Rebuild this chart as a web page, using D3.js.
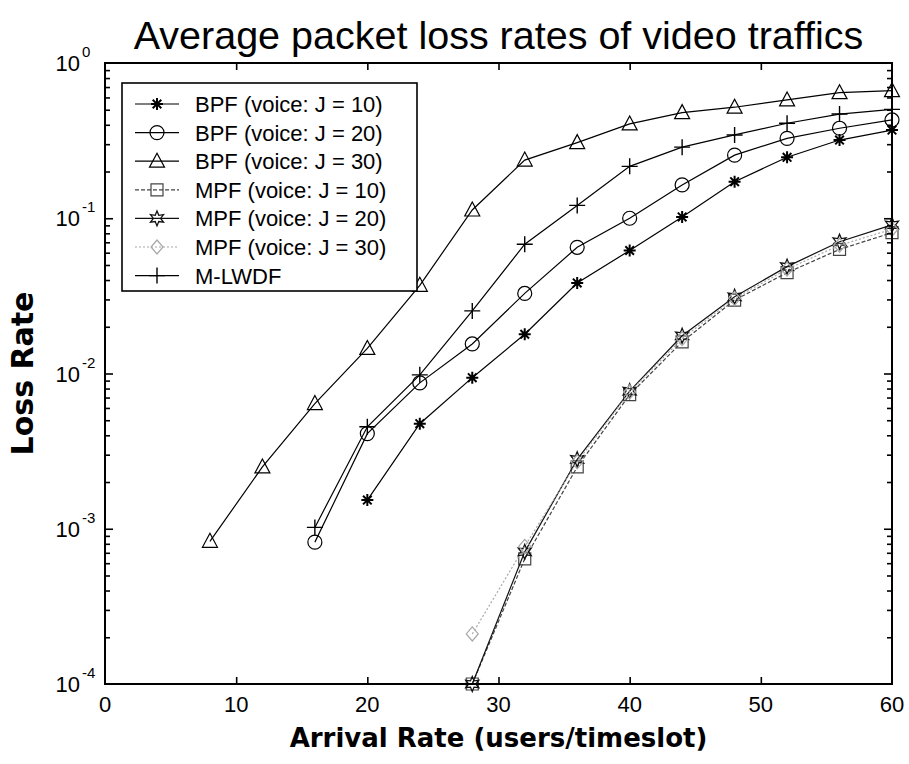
<!DOCTYPE html>
<html>
<head>
<meta charset="utf-8">
<script src="https://cdn.jsdelivr.net/npm/d3@7"></script>
<style>
  body { margin: 0; background: #fff; }
  svg { display: block; }
</style>
</head>
<body>
<svg id="chart" width="909" height="764"></svg>
<script>
// ---- data -------------------------------------------------------------
const xTicks = [0, 10, 20, 30, 40, 50, 60];
const yTickExps = [-4, -3, -2, -1, 0];

const bpfJ30X = [8, 12, 16, 20, 24, 28, 32, 36, 40, 44, 48, 52, 56, 60];
const bpfJ30 = [0.00083, 0.0025, 0.0064, 0.0145, 0.037, 0.113, 0.237, 0.307, 0.405, 0.479, 0.519, 0.578, 0.644, 0.663];

const bpfJ20X = [16, 20, 24, 28, 32, 36, 40, 44, 48, 52, 56, 60];
const bpfJ20 = [0.00082, 0.0041, 0.0087, 0.0155, 0.0328, 0.065, 0.1, 0.164, 0.255, 0.327, 0.38, 0.43];

const bpfJ10X = [20, 24, 28, 32, 36, 40, 44, 48, 52, 56, 60];
const bpfJ10 = [0.00153, 0.00475, 0.0094, 0.0179, 0.0383, 0.062, 0.102, 0.172, 0.247, 0.319, 0.37];

const mlwdfX = [16, 20, 24, 28, 32, 36, 40, 44, 48, 52, 56, 60];
const mlwdf = [0.00102, 0.00454, 0.0098, 0.0253, 0.068, 0.121, 0.216, 0.287, 0.344, 0.409, 0.469, 0.503];

const mpfX = [28, 32, 36, 40, 44, 48, 52, 56, 60];
const mpfJ10 = [0.0001, 0.00064, 0.0025, 0.0073, 0.016, 0.0297, 0.0446, 0.063, 0.0807];
const mpfJ20 = [0.0001, 0.00071, 0.0028, 0.0077, 0.0175, 0.0312, 0.0488, 0.0706, 0.0906];
const mpfJ30 = [0.00021, 0.00077, 0.0027, 0.0076, 0.0168, 0.0305, 0.047, 0.067, 0.085];

const seriesNames = [
  "BPF (voice: J = 10)", "BPF (voice: J = 20)", "BPF (voice: J = 30)",
  "MPF (voice: J = 10)", "MPF (voice: J = 20)", "MPF (voice: J = 30)", "M-LWDF"
];

// ---- layout -----------------------------------------------------------
const plot = { left: 105, right: 892, top: 63, bottom: 684 };
const svg = d3.select("#chart");

const x = d3.scaleLinear().domain([0, 60]).range([plot.left, plot.right]);
const y = d3.scaleLog().domain([1e-4, 1]).range([plot.bottom, plot.top]);

const FONT = "'Liberation Sans', Arial, Helvetica, sans-serif";
const BOLD = "'DejaVu Sans', Verdana, sans-serif";

// ---- marker shapes ----------------------------------------------------
function markerPath(type) {
  switch (type) {
    case "asterisk": {
      const r = 6, d = 4.3;
      return `M${-r},0L${r},0M0,${-r}L0,${r}M${-d},${-d}L${d},${d}M${-d},${d}L${d},${-d}`;
    }
    case "circle": {
      const r = 7;
      return `M${r},0A${r},${r} 0 1,1 ${-r},0A${r},${r} 0 1,1 ${r},0Z`;
    }
    case "triangle":
      return "M0,-8L7.5,6L-7.5,6Z";
    case "square":
      return "M-6,-6L6,-6L6,6L-6,6Z";
    case "hexagram": {
      const pts = [];
      for (let i = 0; i < 12; i++) {
        const a = -Math.PI / 2 + i * Math.PI / 6;
        const r = i % 2 === 0 ? 7.5 : 3.6;
        pts.push([r * Math.cos(a), r * Math.sin(a)]);
      }
      return "M" + pts.map(p => p[0].toFixed(2) + "," + p[1].toFixed(2)).join("L") + "Z";
    }
    case "diamond":
      return "M0,-7L6,0L0,7L-6,0Z";
    case "plus":
      return "M-8,0L8,0M0,-8L0,8";
  }
}

const series = [
  { name: seriesNames[0], xs: bpfJ10X, ys: bpfJ10, marker: "asterisk", color: "#000", dash: null, mw: 2 },
  { name: seriesNames[1], xs: bpfJ20X, ys: bpfJ20, marker: "circle", color: "#000", dash: null, mw: 1.2 },
  { name: seriesNames[2], xs: bpfJ30X, ys: bpfJ30, marker: "triangle", color: "#000", dash: null, mw: 1.2 },
  { name: seriesNames[3], xs: mpfX, ys: mpfJ10, marker: "square", color: "#444", dash: "4,2", mw: 1.2 },
  { name: seriesNames[4], xs: mpfX, ys: mpfJ20, marker: "hexagram", color: "#111", dash: null, mw: 1.3 },
  { name: seriesNames[5], xs: mpfX, ys: mpfJ30, marker: "diamond", color: "#a8a8a8", dash: "2,2", mw: 1.2 },
  { name: seriesNames[6], xs: mlwdfX, ys: mlwdf, marker: "plus", color: "#000", dash: null, mw: 1.4 }
];

// ---- title & axis labels ---------------------------------------------
svg.append("text")
  .attr("x", (plot.left + plot.right) / 2)
  .attr("y", 49)
  .attr("text-anchor", "middle")
  .style("font-family", FONT)
  .style("font-size", "39.5px")
  .text("Average packet loss rates of video traffics");

svg.append("text")
  .attr("x", (plot.left + plot.right) / 2)
  .attr("y", 747)
  .attr("text-anchor", "middle")
  .style("font-family", BOLD)
  .style("font-weight", "bold")
  .style("font-size", "26px")
  .text("Arrival Rate (users/timeslot)");

svg.append("text")
  .attr("transform", `translate(33,${(plot.top + plot.bottom) / 2}) rotate(-90)`)
  .attr("text-anchor", "middle")
  .style("font-family", BOLD)
  .style("font-weight", "bold")
  .style("font-size", "30px")
  .text("Loss Rate");

// ---- series -----------------------------------------------------------
const line = d3.line().x(d => x(d[0])).y(d => y(d[1]));
const plotG = svg.append("g");

series.forEach(s => {
  const pts = s.xs.map((v, i) => [v, s.ys[i]]);
  plotG.append("path")
    .datum(pts)
    .attr("d", line)
    .attr("fill", "none")
    .attr("stroke", s.color)
    .attr("stroke-width", 1.2)
    .attr("stroke-dasharray", s.dash);
  plotG.selectAll(null)
    .data(pts)
    .enter().append("path")
    .attr("transform", d => `translate(${x(d[0])},${y(d[1])})`)
    .attr("d", markerPath(s.marker))
    .attr("fill", "none")
    .attr("stroke", s.color)
    .attr("stroke-width", s.mw);
});

// ---- axes (ticks pointing inward) -------------------------------------
const majorY = yTickExps.map(e => Math.pow(10, e));
const minorY = [];
yTickExps.slice(0, -1).forEach(e => {
  for (let k = 2; k <= 9; k++) minorY.push(k * Math.pow(10, e));
});

function styleAxis(g) {
  g.select(".domain").remove();
  g.selectAll(".tick line").attr("stroke", "#000").attr("stroke-width", 1.6);
  g.selectAll(".tick text").remove();
}

svg.append("g").attr("transform", `translate(0,${plot.bottom})`)
  .call(d3.axisBottom(x).tickValues(xTicks.slice(1, -1)).tickSizeInner(-7).tickSizeOuter(0)).call(styleAxis);
svg.append("g").attr("transform", `translate(0,${plot.top})`)
  .call(d3.axisTop(x).tickValues(xTicks.slice(1, -1)).tickSizeInner(-7).tickSizeOuter(0)).call(styleAxis);
svg.append("g").attr("transform", `translate(${plot.left},0)`)
  .call(d3.axisLeft(y).tickValues(majorY.slice(1, -1)).tickSizeInner(-8).tickSizeOuter(0)).call(styleAxis);
svg.append("g").attr("transform", `translate(${plot.left},0)`)
  .call(d3.axisLeft(y).tickValues(minorY).tickSizeInner(-5).tickSizeOuter(0)).call(styleAxis);
svg.append("g").attr("transform", `translate(${plot.right},0)`)
  .call(d3.axisRight(y).tickValues(majorY.slice(1, -1)).tickSizeInner(-8).tickSizeOuter(0)).call(styleAxis);
svg.append("g").attr("transform", `translate(${plot.right},0)`)
  .call(d3.axisRight(y).tickValues(minorY).tickSizeInner(-5).tickSizeOuter(0)).call(styleAxis);

// frame
svg.append("rect")
  .attr("x", plot.left).attr("y", plot.top)
  .attr("width", plot.right - plot.left).attr("height", plot.bottom - plot.top)
  .attr("fill", "none").attr("stroke", "#000").attr("stroke-width", 2);

// x tick labels
svg.append("g").selectAll("text")
  .data(xTicks).enter().append("text")
  .attr("x", d => x(d)).attr("y", plot.bottom + 28)
  .attr("text-anchor", "middle")
  .style("font-family", FONT).style("font-size", "22px")
  .text(d => d);

// y tick labels: 10 with a raised exponent
const yl = svg.append("g").selectAll("g")
  .data(yTickExps).enter().append("g");
yl.append("text")
  .attr("x", 80).attr("y", d => y(Math.pow(10, d)) + 8)
  .attr("text-anchor", "end")
  .style("font-family", FONT).style("font-size", "22px")
  .text("10");
yl.append("text")
  .attr("x", 82).attr("y", d => y(Math.pow(10, d)) - 6)
  .attr("text-anchor", "start")
  .style("font-family", FONT).style("font-size", "15px")
  .text(d => d === 0 ? "0" : "-" + Math.abs(d));

// ---- legend -----------------------------------------------------------
const legend = { x: 122, y: 83, w: 295, h: 208, row0: 104, step: 28.6 };
svg.append("rect")
  .attr("x", legend.x).attr("y", legend.y)
  .attr("width", legend.w).attr("height", legend.h)
  .attr("fill", "#fff").attr("stroke", "#000").attr("stroke-width", 1.6);

const lg = svg.append("g").selectAll("g")
  .data(series).enter().append("g")
  .attr("transform", (d, i) => `translate(0,${legend.row0 + i * legend.step})`);
lg.append("line")
  .attr("x1", 135).attr("x2", 179).attr("y1", 0).attr("y2", 0)
  .attr("stroke", d => d.color).attr("stroke-width", 1.2)
  .attr("stroke-dasharray", d => d.dash);
lg.append("path")
  .attr("transform", "translate(157,0)")
  .attr("d", d => markerPath(d.marker))
  .attr("fill", "none").attr("stroke", d => d.color).attr("stroke-width", d => d.mw);
lg.append("text")
  .attr("x", 195).attr("y", 8)
  .style("font-family", FONT).style("font-size", "22px")
  .text(d => d.name);
</script>
</body>
</html>
